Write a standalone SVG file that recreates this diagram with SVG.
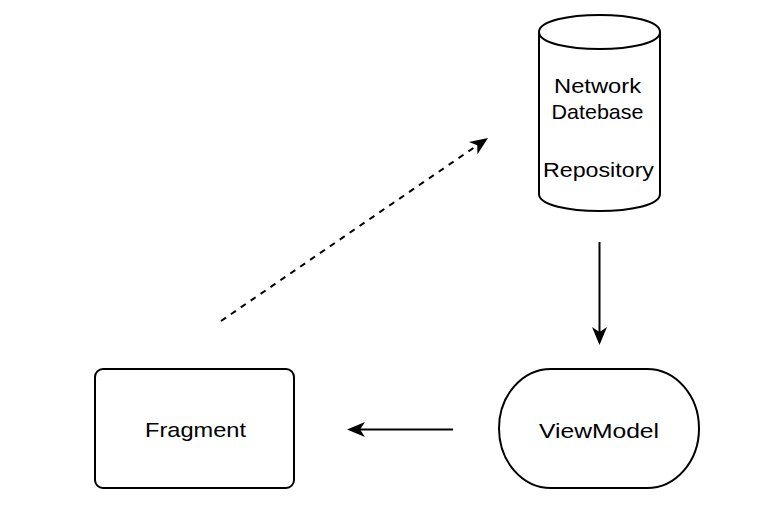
<svg xmlns="http://www.w3.org/2000/svg" width="760" height="516" viewBox="0 0 760 516">
  <style>
    .shape { fill: #ffffff; stroke: #000000; stroke-width: 2; }
    .label { font-family: "Liberation Sans", Arial, Helvetica, sans-serif; font-size: 21px; fill: #000000; text-anchor: middle; }
    .edge { fill: none; stroke: #000000; stroke-width: 2; }
    .dashed { stroke-dasharray: 6 6; }
  </style>
  <defs>
    <marker id="arrow" markerUnits="userSpaceOnUse" markerWidth="20" markerHeight="18" viewBox="0 -9 20 18" refX="5" refY="0" orient="auto">
      <path d="M18,0 L0,-7.5 L5,0 L0,7.5 Z" fill="#000000" stroke="none"/>
    </marker>
  </defs>
  <rect width="760" height="516" fill="#ffffff"/>

  <!-- Repository cylinder -->
  <g id="repository">
    <path class="shape" d="M539,32 C539,9.3 660,9.3 660,32 L660,194 C660,216.7 539,216.7 539,194 Z"/>
    <path class="shape" fill="none" d="M539,32 C539,54.7 660,54.7 660,32"/>
    <text class="label" x="597.5" y="93" textLength="87" lengthAdjust="spacingAndGlyphs">Network</text>
    <text class="label" x="597.5" y="119" textLength="92" lengthAdjust="spacingAndGlyphs">Datebase</text>
    <text class="label" x="598.5" y="177" textLength="111" lengthAdjust="spacingAndGlyphs">Repository</text>
  </g>

  <!-- ViewModel terminator -->
  <g id="viewmodel">
    <rect class="shape" x="499" y="369" width="200" height="119" rx="52" ry="59.5"/>
    <text class="label" x="599" y="438" textLength="120" lengthAdjust="spacingAndGlyphs">ViewModel</text>
  </g>

  <!-- Fragment box -->
  <g id="fragment">
    <rect class="shape" x="95" y="369" width="199" height="119" rx="8" ry="8"/>
    <text class="label" x="195.5" y="437" textLength="101" lengthAdjust="spacingAndGlyphs">Fragment</text>
  </g>

  <!-- Connectors -->
  <g id="connectors">
    <line class="edge" x1="599.5" y1="242" x2="599.5" y2="332" marker-end="url(#arrow)"/>
    <line class="edge" x1="453" y1="429.5" x2="360" y2="429.5" marker-end="url(#arrow)"/>
    <line class="edge dashed" x1="221" y1="321" x2="477.3" y2="145.3" marker-end="url(#arrow)"/>
  </g>
</svg>
